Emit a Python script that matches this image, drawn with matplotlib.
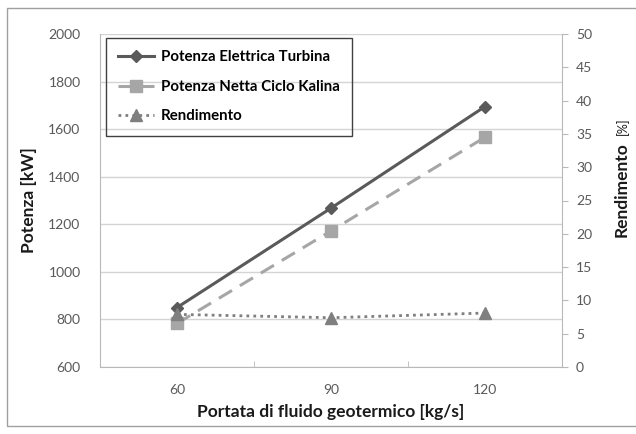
import matplotlib
matplotlib.use("Agg")
import matplotlib.pyplot as plt
from matplotlib.patches import Rectangle

plt.rcParams['font.family'] = ['Lato', 'DejaVu Sans']

portata = [60, 90, 120]
potenza_turbina = [850, 1268, 1695]
potenza_netta = [783, 1172, 1566]
rendimento = [7.9, 7.4, 8.1]

x_ticks = [60, 90, 120]
y_left_ticks = [600, 800, 1000, 1200, 1400, 1600, 1800, 2000]
y_right_ticks = [0, 5, 10, 15, 20, 25, 30, 35, 40, 45, 50]

fig = plt.figure(figsize=(6.36, 4.34), dpi=100)
fig.patches.append(Rectangle((7/636, 1 - 426/434), 640/636, 418/434,
                             transform=fig.transFigure, fill=False,
                             edgecolor='#a0a0a0', lw=1.0))

ax = fig.add_axes([100/636, 1 - 367/434, 462/636, 333/434])
ax2 = ax.twinx()

grid_c = '#d4d4d4'
axis_c = '#b8b8b8'
tick_c = '#595959'

ax.set_xlim(45, 135)
ax.set_ylim(600, 2000)
ax.set_yticks(y_left_ticks)
ax.set_xticks(x_ticks)
ax.set_xticks([75, 105], minor=True)
ax.grid(axis='y', color=grid_c, lw=1.0)
ax.set_axisbelow(True)
ax.tick_params(axis='y', length=0, labelsize=10, labelcolor=tick_c, pad=14)
ax.tick_params(axis='x', which='major', length=0, labelsize=10, labelcolor=tick_c, pad=12)
ax.tick_params(axis='x', which='minor', length=4, direction='in', color=axis_c)
for s in ['top', 'right']:
    ax.spines[s].set_visible(False)
ax.spines['left'].set_color(axis_c)
ax.spines['bottom'].set_color(axis_c)

ax2.set_ylim(0, 50)
ax2.set_yticks(y_right_ticks)
ax2.tick_params(axis='y', length=4, color=axis_c, labelsize=10, labelcolor=tick_c, pad=6)
for s in ['top', 'left', 'bottom']:
    ax2.spines[s].set_visible(False)
ax2.spines['right'].set_color(axis_c)

l1, = ax.plot(portata, potenza_turbina, color='#5a5a5a', lw=2.2, marker='D',
              ms=6, label='Potenza Elettrica Turbina')
l2, = ax.plot(portata, potenza_netta, color='#a6a6a6', lw=2.2, ls=(0, (5, 3)),
              marker='s', ms=8, label='Potenza Netta Ciclo Kalina')
l3, = ax2.plot(portata, rendimento, color='#7f7f7f', lw=2.0, ls=(0, (1, 1.5)),
               marker='^', ms=9, label='Rendimento')

ax.set_xlabel('Portata di fluido geotermico [kg/s]', fontsize=12.5,
              fontweight='bold', color='#1a1a1a', labelpad=6)
ax.set_ylabel('Potenza [kW]', fontsize=12.5, fontweight='bold', color='#1a1a1a', labelpad=8)

fig.text(622/636, 1 - 190/434, 'Rendimento', rotation=90, fontsize=12.5,
         fontweight='bold', color='#1a1a1a', ha='center', va='center')
fig.text(622/636, 1 - 126/434, '[%]', rotation=90, fontsize=9,
         color='#1a1a1a', ha='center', va='center')

leg = ax.legend(handles=[l1, l2, l3], loc='upper left',
                bbox_to_anchor=(6/462, 1 - 4/333), fancybox=False,
                frameon=True, facecolor='none', framealpha=1, edgecolor='#404040',
                prop={'family': 'Lato', 'weight': 'bold', 'size': 10.8},
                handlelength=2.4, labelspacing=1.05, borderpad=0.8,
                handletextpad=0.45, borderaxespad=0)
leg.get_frame().set_linewidth(1.0)
leg.set_zorder(5)

fig.savefig('out.png', dpi=100)
